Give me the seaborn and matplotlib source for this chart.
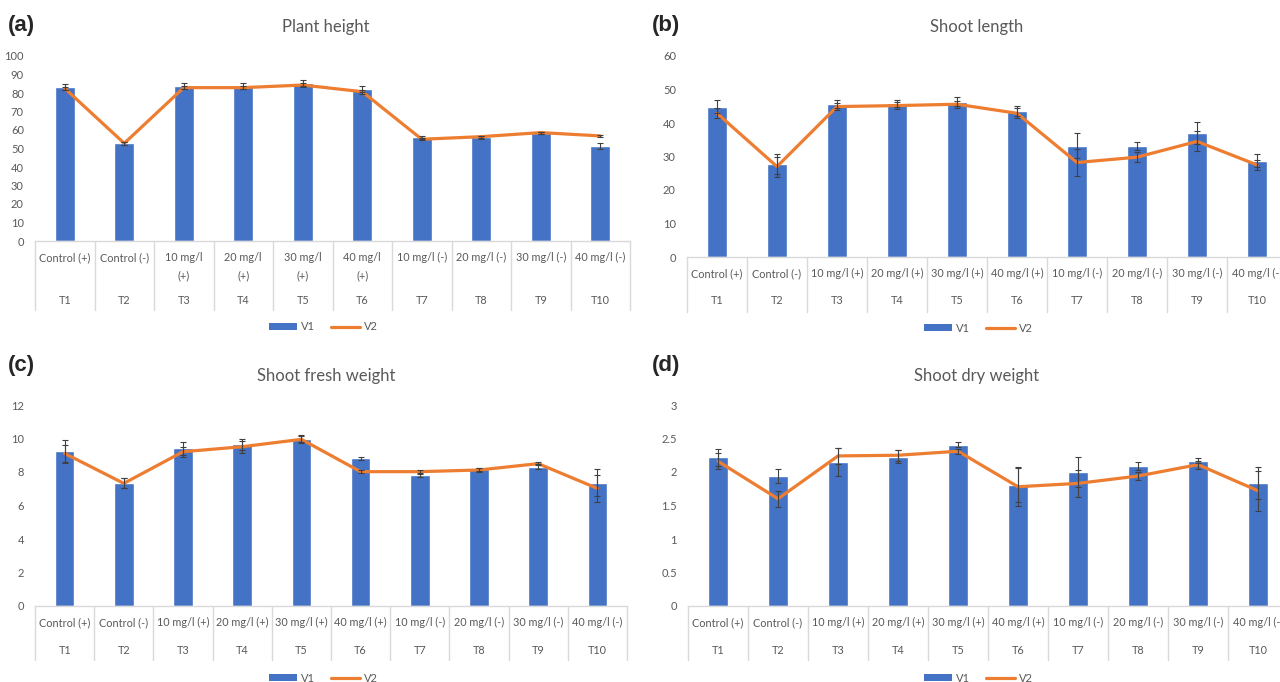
import numpy as np
import pandas as pd
import matplotlib
matplotlib.use('Agg')
import matplotlib.pyplot as plt
from matplotlib.patches import Patch
from matplotlib.lines import Line2D
import seaborn as sns

# ---- data ----
treatments = ['T1', 'T2', 'T3', 'T4', 'T5', 'T6', 'T7', 'T8', 'T9', 'T10']
doses = ['Control (+)', 'Control (-)', '10 mg/l (+)', '20 mg/l (+)', '30 mg/l (+)',
         '40 mg/l (+)', '10 mg/l (-)', '20 mg/l (-)', '30 mg/l (-)', '40 mg/l (-)']
doses_wrapped = ['Control (+)', 'Control (-)', '10 mg/l\n(+)', '20 mg/l\n(+)', '30 mg/l\n(+)',
                 '40 mg/l\n(+)', '10 mg/l (-)', '20 mg/l (-)', '30 mg/l (-)', '40 mg/l (-)']

height_v1 = [83.2, 52.8, 84.0, 83.8, 85.6, 82.0, 56.2, 56.0, 58.2, 51.5]
height_v2 = [82.5, 52.8, 82.9, 82.9, 84.3, 80.7, 55.0, 56.4, 58.6, 56.8]
height_e1 = [1.8, 0.8, 1.6, 1.8, 1.6, 1.6, 0.8, 0.8, 0.6, 1.6]
height_e2 = [1.0, 0.8, 1.0, 1.0, 1.0, 1.0, 0.6, 0.6, 0.5, 0.5]

length_v1 = [44.9, 27.7, 45.7, 45.9, 46.4, 43.6, 33.2, 33.2, 37.1, 28.8]
length_v2 = [42.9, 27.0, 44.9, 45.2, 45.6, 42.9, 28.2, 29.8, 34.5, 27.5]
length_e1 = [2.0, 3.0, 1.3, 1.0, 1.3, 1.5, 3.7, 1.2, 3.3, 2.0]
length_e2 = [1.5, 3.0, 1.0, 1.0, 1.0, 1.5, 4.0, 1.5, 3.0, 1.5]

fresh_v1 = [9.23, 7.32, 9.41, 9.65, 10.0, 8.82, 7.80, 8.16, 8.30, 7.36]
fresh_v2 = [9.11, 7.32, 9.21, 9.51, 9.95, 8.02, 8.02, 8.12, 8.50, 7.02]
fresh_e1 = [0.68, 0.30, 0.40, 0.35, 0.20, 0.10, 0.10, 0.10, 0.15, 0.80]
fresh_e2 = [0.50, 0.30, 0.30, 0.35, 0.20, 0.10, 0.10, 0.10, 0.10, 0.80]

dry_v1 = [2.22, 1.94, 2.15, 2.23, 2.41, 1.81, 2.00, 2.09, 2.17, 1.83]
dry_v2 = [2.16, 1.60, 2.24, 2.25, 2.31, 1.78, 1.83, 1.94, 2.11, 1.72]
dry_e1 = [0.13, 0.10, 0.21, 0.10, 0.04, 0.26, 0.22, 0.06, 0.04, 0.24]
dry_e2 = [0.12, 0.12, 0.12, 0.08, 0.04, 0.28, 0.20, 0.06, 0.06, 0.30]

BLUE = '#4472C4'
ORANGE = '#ED7D31'
GREY = '#595959'
LINE = '#D9D9D9'

sns.set_style('white')
plt.rcParams['font.family'] = ['Lato', 'DejaVu Sans']

W, H = 1280, 682
fig = plt.figure(figsize=(W / 100, H / 100), dpi=100)


def px_axes(left, top, right, bottom):
    return [left / W, 1 - bottom / H, (right - left) / W, (bottom - top) / H]


def panel(rect, v1, v2, e1, e2, ymax, ystep, labels, rows):
    ax = fig.add_axes(px_axes(*rect))
    ax_h = rect[3] - rect[1]
    df = pd.DataFrame({'T': treatments, 'V1': v1})
    sns.barplot(data=df, x='T', y='V1', color=BLUE, saturation=1, width=0.33,
                errorbar=None, ax=ax)
    x = np.arange(len(treatments))
    sns.lineplot(x=x, y=v2, color=ORANGE, lw=2.3, ax=ax)
    ax.errorbar(x, v1, yerr=e1, fmt='none', ecolor='#404040', elinewidth=0.8,
                capsize=2.5, capthick=0.8, zorder=4)
    ax.errorbar(x, v2, yerr=e2, fmt='none', ecolor='#404040', elinewidth=0.8,
                capsize=2.5, capthick=0.8, zorder=4)
    ax.set_xlim(-0.5, len(treatments) - 0.5)
    ax.set_ylim(0, ymax)
    yt = np.arange(0, ymax + ystep / 2, ystep)
    ax.set_yticks(yt)
    ax.set_yticklabels([f'{t:g}' for t in yt])
    ax.set_xticks([])
    ax.set_xlabel('')
    ax.set_ylabel('')
    ax.tick_params(axis='y', length=0, labelsize=8, labelcolor=GREY, pad=8)
    for s in ['top', 'right', 'left']:
        ax.spines[s].set_visible(False)
    ax.spines['bottom'].set_color(LINE)
    ax.spines['bottom'].set_linewidth(1)

    # two-level category axis
    trans = ax.get_xaxis_transform()
    lab_off, t_off, sep_off = rows
    for i in x:
        ax.text(i, -lab_off / ax_h, labels[i], transform=trans, ha='center', va='top',
                fontsize=7.8, color=GREY, linespacing=1.85)
        ax.text(i, -t_off / ax_h, treatments[i], transform=trans, ha='center',
                va='center', fontsize=7.8, color=GREY)
    for b in np.arange(-0.5, len(treatments), 1.0):
        ax.plot([b, b], [0, -sep_off / ax_h], transform=trans, color=LINE, lw=1,
                clip_on=False)
    return ax


def titles(letter, lx, ly, title, tx, ty):
    fig.text(lx / W, 1 - ly / H, letter, fontsize=16, fontweight='bold',
             family=['Liberation Sans', 'DejaVu Sans'], va='center', ha='left')
    fig.text(tx / W, 1 - ty / H, title, fontsize=12, color=GREY, va='center', ha='center')


def legend(xc, yc):
    handles = [Patch(facecolor=BLUE, edgecolor='none'),
               Line2D([], [], color=ORANGE, lw=2.3)]
    fig.legend(handles, ['V1', 'V2'], loc='center', bbox_to_anchor=(xc / W, 1 - yc / H),
               ncol=2, frameon=False, fontsize=8, labelcolor=GREY, handlelength=2.6,
               handleheight=0.55, handletextpad=0.3, columnspacing=1.5)


panel((35, 56, 630, 241), height_v1, height_v2, height_e1, height_e2, 100, 10,
      doses_wrapped, (11, 60, 69))
panel((687, 56, 1287, 257), length_v1, length_v2, length_e1, length_e2, 60, 10,
      doses, (11, 44, 55))
panel((35, 405, 627, 606), fresh_v1, fresh_v2, fresh_e1, fresh_e2, 12, 2,
      doses, (11, 45, 54))
panel((688, 405, 1288, 606), dry_v1, dry_v2, dry_e1, dry_e2, 3, 0.5,
      doses, (11, 45, 54))

titles('(a)', 8, 25, 'Plant height', 326, 27)
titles('(b)', 652, 25, 'Shoot length', 977, 27)
titles('(c)', 8, 366, 'Shoot fresh weight', 326, 376)
titles('(d)', 652, 366, 'Shoot dry weight', 977, 376)

legend(323, 327)
legend(978, 328)
legend(323, 678)
legend(978, 678)

fig.savefig('out.png', dpi=100)
